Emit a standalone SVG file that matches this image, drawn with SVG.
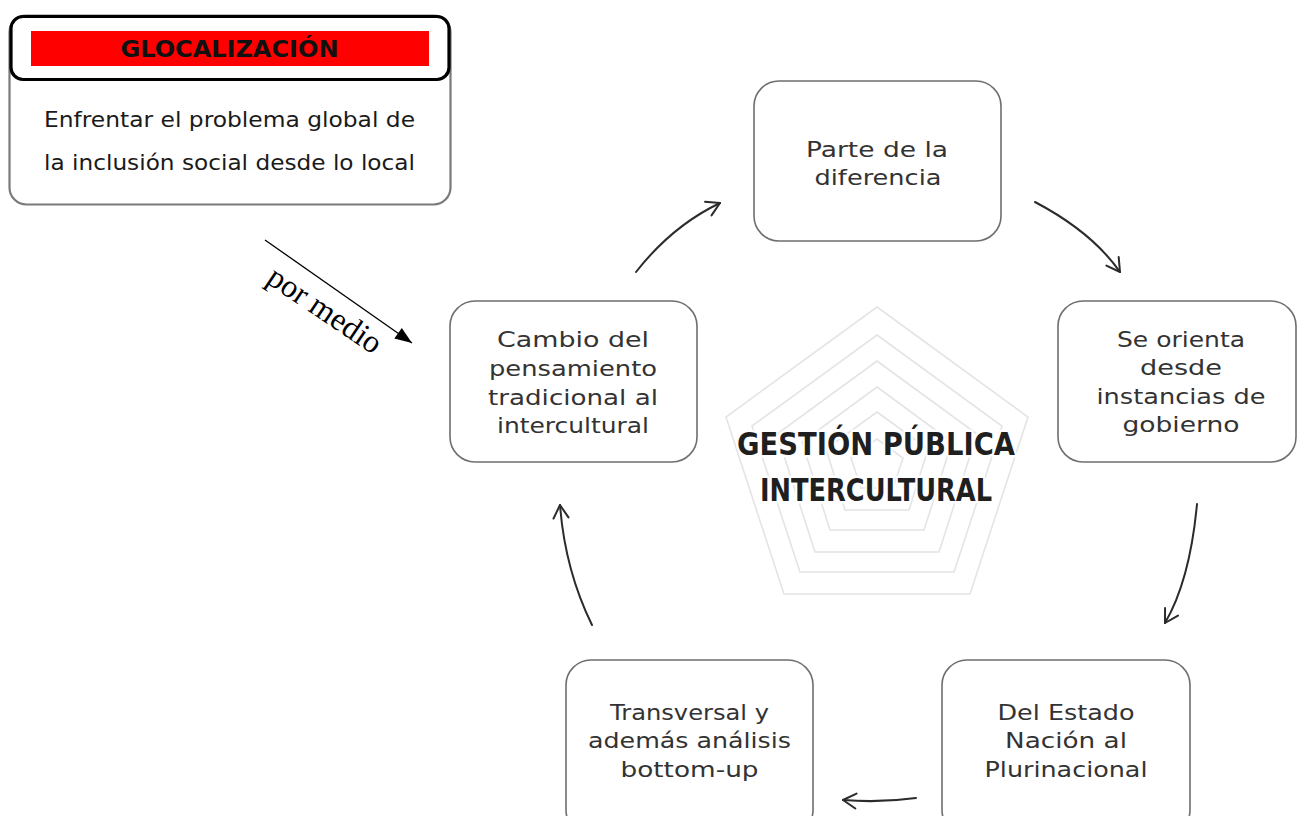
<svg xmlns="http://www.w3.org/2000/svg" width="1297" height="816" viewBox="0 0 1297 816">
  <style>
    .node { fill: #ffffff; stroke: #6e6e6e; stroke-width: 1.6; }
    .ntxt { font-family: "DejaVu Sans", "Liberation Sans", sans-serif; font-size: 21px; fill: #333333; text-anchor: middle; }
    .pent { fill: none; stroke: #e4e4e4; stroke-width: 1.6; }
    .center { font-family: "DejaVu Sans", "Liberation Sans", sans-serif; font-size: 32px; font-weight: bold; fill: #1f1f1f; text-anchor: middle; stroke: #ffffff; stroke-width: 5; paint-order: stroke; stroke-linejoin: round; }
    .conn { fill: none; stroke: #2b2b2b; stroke-width: 2; stroke-linecap: round; }
    .btxt { font-family: "DejaVu Sans", "Liberation Sans", sans-serif; font-size: 21px; fill: #1a1a1a; text-anchor: middle; }
  </style>
  <defs>
    <marker id="open" markerUnits="userSpaceOnUse" viewBox="-16 -10 18 20" markerWidth="18" markerHeight="20" refX="0" refY="0" orient="auto">
      <path d="M-13,-7.5 L0,0 L-13,7.5" fill="none" stroke="#2b2b2b" stroke-width="2" stroke-linecap="round" stroke-linejoin="round"/>
    </marker>
    <marker id="solid" markerUnits="userSpaceOnUse" viewBox="-18 -8 19 16" markerWidth="19" markerHeight="16" refX="0" refY="0" orient="auto">
      <path d="M-17,-6.5 L0,0 L-17,6.5 Z" fill="#000000"/>
    </marker>
  </defs>

  <rect x="0" y="0" width="1297" height="816" fill="#ffffff"/>

  <!-- background pentagons -->
  <g id="pentagons">
    <polygon class="pent" points="877,307 1028,417 970,594 784,594 726,417"/>
    <polygon class="pent" points="877,335 1002,426 954,572 800,572 752,426"/>
    <polygon class="pent" points="877,361 977,434 939,552 815,552 777,434"/>
    <polygon class="pent" points="877,387 952,442 924,530 830,530 802,442"/>
    <polygon class="pent" points="877,412 928,449 909,510 845,510 826,449"/>
    <polygon class="pent" points="877,439 903,458 893,488 861,488 851,458"/>
  </g>

  <g id="center-title">
    <text class="center" x="876" y="455" textLength="278" lengthAdjust="spacingAndGlyphs">GESTIÓN PÚBLICA</text>
    <text class="center" x="876" y="501" textLength="232" lengthAdjust="spacingAndGlyphs">INTERCULTURAL</text>
  </g>

  <!-- GLOCALIZACIÓN box -->
  <g id="glocalizacion">
    <rect x="9.5" y="15.5" width="441" height="189" rx="17" fill="#ffffff" stroke="#7a7a7a" stroke-width="2.2"/>
    <rect x="11" y="16.5" width="438" height="63" rx="12" fill="#ffffff" stroke="#000000" stroke-width="3.2"/>
    <rect x="31" y="31" width="398" height="35" fill="#ff0000"/>
    <text x="229.5" y="57" font-family="DejaVu Sans, Liberation Sans, sans-serif" font-size="23" font-weight="bold" fill="#111111" text-anchor="middle" textLength="218" lengthAdjust="spacingAndGlyphs">GLOCALIZACIÓN</text>
    <text class="btxt" x="229.5" y="127" textLength="371" lengthAdjust="spacingAndGlyphs">Enfrentar el problema global de</text>
    <text class="btxt" x="229.5" y="170" textLength="371" lengthAdjust="spacingAndGlyphs">la inclusión social desde lo local</text>
  </g>

  <!-- nodes -->
  <g id="node-diferencia">
    <rect class="node" x="754" y="81" width="247" height="160" rx="25"/>
    <text class="ntxt" x="877" y="157" textLength="142" lengthAdjust="spacingAndGlyphs">Parte de la</text>
    <text class="ntxt" x="878" y="185" textLength="127" lengthAdjust="spacingAndGlyphs">diferencia</text>
  </g>

  <g id="node-orienta">
    <rect class="node" x="1058" y="301" width="238" height="161" rx="25"/>
    <text class="ntxt" x="1181" y="347" textLength="128" lengthAdjust="spacingAndGlyphs">Se orienta</text>
    <text class="ntxt" x="1181" y="375" textLength="82" lengthAdjust="spacingAndGlyphs">desde</text>
    <text class="ntxt" x="1181" y="404" textLength="169" lengthAdjust="spacingAndGlyphs">instancias de</text>
    <text class="ntxt" x="1181" y="432" textLength="117" lengthAdjust="spacingAndGlyphs">gobierno</text>
  </g>

  <g id="node-estado">
    <rect class="node" x="942" y="660" width="248" height="175" rx="25"/>
    <text class="ntxt" x="1066" y="720" textLength="137" lengthAdjust="spacingAndGlyphs">Del Estado</text>
    <text class="ntxt" x="1066" y="748" textLength="122" lengthAdjust="spacingAndGlyphs">Nación al</text>
    <text class="ntxt" x="1066" y="777" textLength="163" lengthAdjust="spacingAndGlyphs">Plurinacional</text>
  </g>

  <g id="node-transversal">
    <rect class="node" x="566" y="660" width="247" height="175" rx="25"/>
    <text class="ntxt" x="689.5" y="720" textLength="159" lengthAdjust="spacingAndGlyphs">Transversal y</text>
    <text class="ntxt" x="689.5" y="748" textLength="203" lengthAdjust="spacingAndGlyphs">además análisis</text>
    <text class="ntxt" x="689.5" y="777" textLength="138" lengthAdjust="spacingAndGlyphs">bottom-up</text>
  </g>

  <g id="node-cambio">
    <rect class="node" x="450" y="301" width="247" height="161" rx="25"/>
    <text class="ntxt" x="573" y="347" textLength="152" lengthAdjust="spacingAndGlyphs">Cambio del</text>
    <text class="ntxt" x="573" y="376" textLength="168" lengthAdjust="spacingAndGlyphs">pensamiento</text>
    <text class="ntxt" x="573" y="405" textLength="170" lengthAdjust="spacingAndGlyphs">tradicional al</text>
    <text class="ntxt" x="573" y="433" textLength="152" lengthAdjust="spacingAndGlyphs">intercultural</text>
  </g>

  <!-- connectors -->
  <g id="connectors">
    <path class="conn" d="M636,272 Q672,226 720,203" marker-end="url(#open)"/>
    <path class="conn" d="M1035,202 Q1092,232 1120,272" marker-end="url(#open)"/>
    <path class="conn" d="M1197,504 Q1190,580 1165,623" marker-end="url(#open)"/>
    <path class="conn" d="M916,798 Q880,803 843,800" marker-end="url(#open)"/>
    <path class="conn" d="M592,625 Q565,570 560,505" marker-end="url(#open)"/>
    <line x1="265" y1="240" x2="412" y2="343" stroke="#000000" stroke-width="1.3" marker-end="url(#solid)"/>
    <text x="265" y="282" transform="rotate(34 265 282)" font-family="Liberation Serif, serif" font-size="32" fill="#000000">por medio</text>
  </g>
</svg>
